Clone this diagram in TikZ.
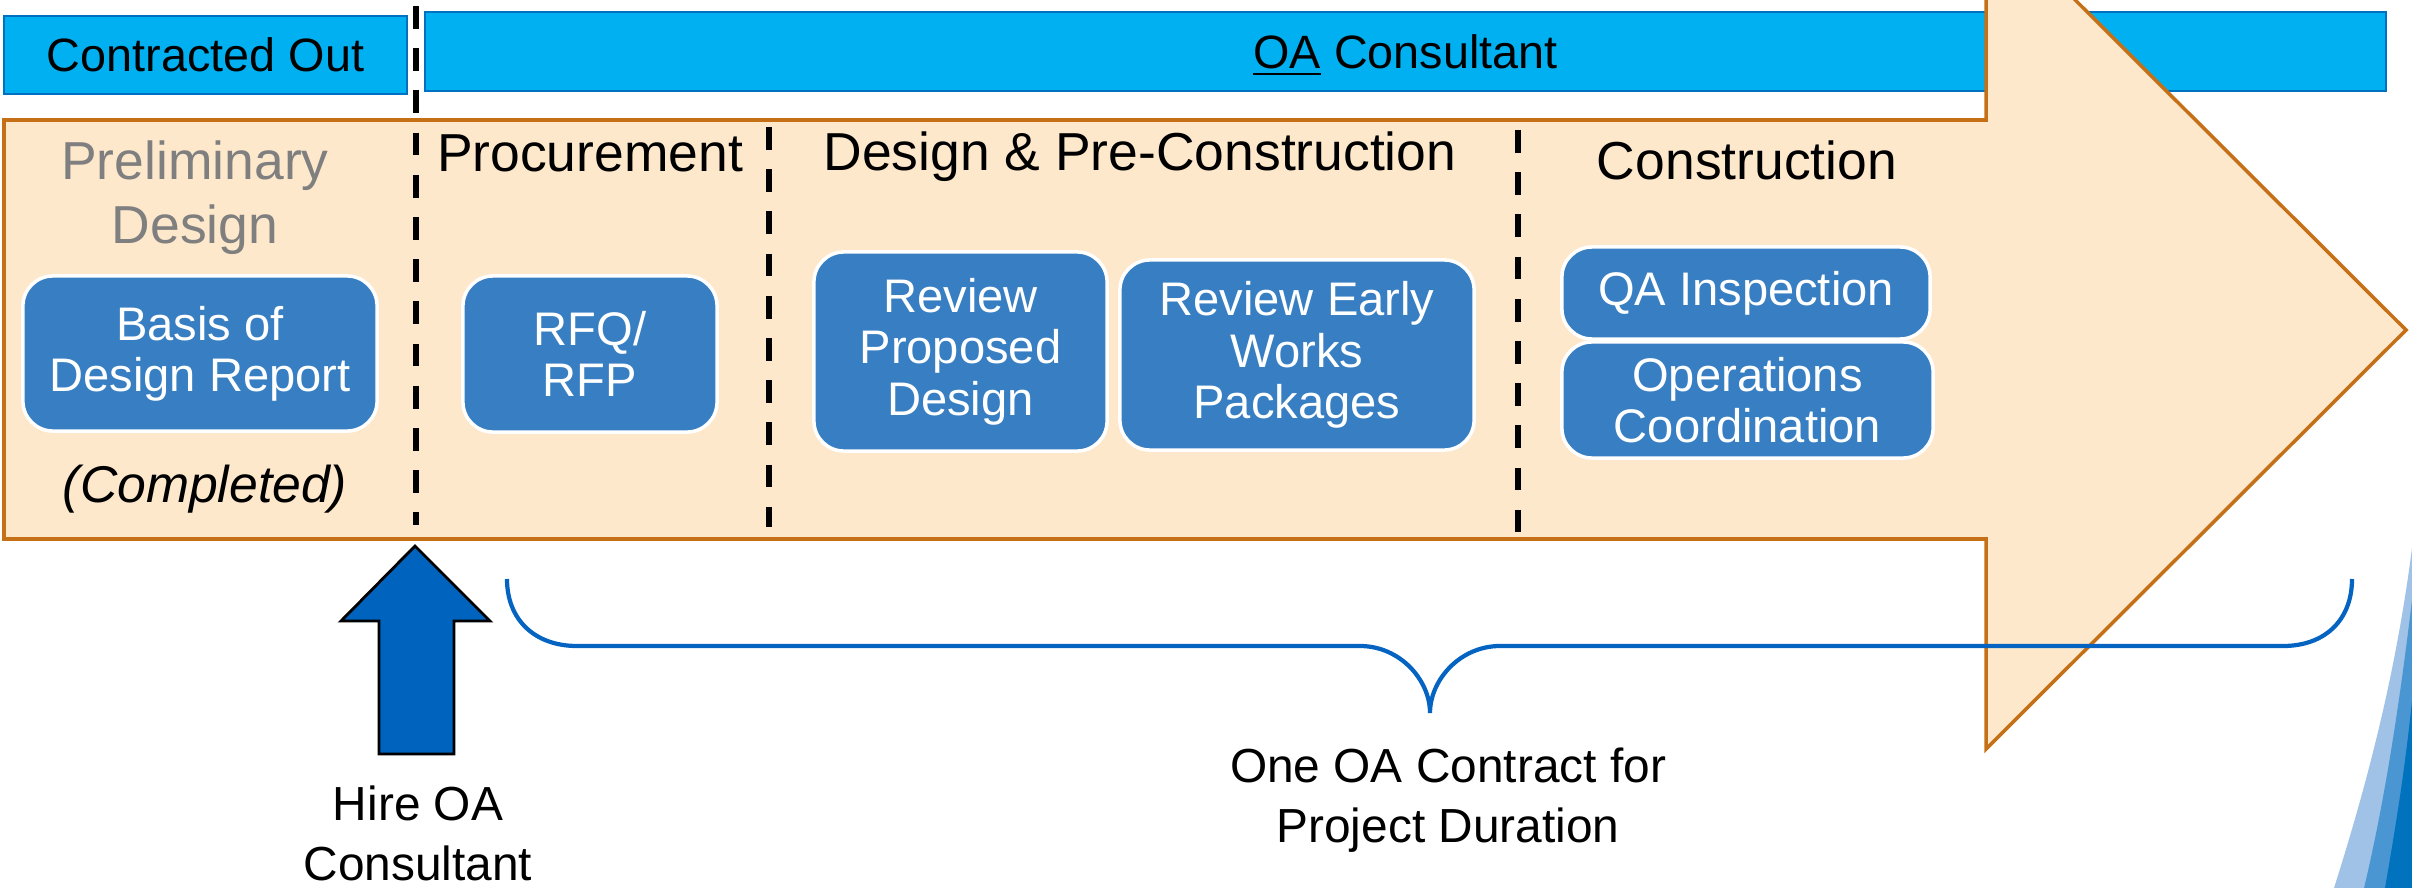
\documentclass[tikz,border=0pt]{standalone}
\usepackage{fontspec}
\setmainfont{Liberation Sans}
\usepackage{tikz}
\usetikzlibrary{calc,positioning}
\definecolor{mybarblue}{RGB}{0,176,240}
\definecolor{mybarline}{RGB}{0,112,192}
\definecolor{mypeach}{RGB}{253,232,204}
\definecolor{mypeachline}{RGB}{197,112,22}
\definecolor{myboxblue}{RGB}{55,126,194}
\definecolor{myhireblue}{RGB}{0,99,190}
\definecolor{mybrace}{RGB}{5,99,193}
\definecolor{mygray}{RGB}{127,127,127}
\definecolor{myswlight}{RGB}{160,194,230}
\definecolor{myswmid}{RGB}{74,150,210}
\definecolor{myswdark}{RGB}{0,114,190}

\begin{document}
\begin{tikzpicture}[
  x=0.01cm, y=-0.01cm,
  mybar/.style={
    draw=mybarline,
    fill=mybarblue,
    line width=0.6pt,
    inner sep=0pt,
    text depth=0pt,
    font=\fontsize{13.3}{16}\selectfont
    },
  mybox/.style={
    draw=white,
    fill=myboxblue,
    line width=1pt,
    rounded corners=0.3cm,
    text=white,
    align=center,
    inner sep=0pt,
    font=\fontsize{13.4}{14.6}\selectfont
    },
  myhead/.style={
    anchor=base,
    align=center,
    font=\fontsize{15.2}{18.2}\selectfont
    },
  mylabel/.style={
    anchor=base,
    align=center,
    font=\fontsize{13.6}{16.9}\selectfont
    },
  mysep/.style={
    line width=1.7pt,
    dash pattern=on 6.5pt off 5.5pt
    }
]
\useasboundingbox (0,0) rectangle (2412,888);
\clip (0,0) rectangle (2412,888);

% who does the work
\node[mybar, minimum width=4.03cm, minimum height=0.78cm]
  (cobar) at (205.5,55) {Contracted Out};
\node[mybar, minimum width=19.59cm, minimum height=0.79cm]
  (oabar) at (1405.5,51.5) {\underline{OA} Consultant};

% timeline arrow
\draw[draw=mypeachline, fill=mypeach, line width=1pt]
  (4,120) -- (1986,120) -- (1986,-89) -- (2406,330)
  -- (1986,749) -- (1986,539) -- (4,539) -- cycle;

\foreach \Xs/\Ya/\Yb in {416/6/525, 769/127/527, 1518/130/532}
  \draw[mysep] (\Xs,\Ya) -- (\Xs,\Yb);

% phases (multi-line nodes sit on their last baseline)
\node[myhead, text=mygray] (prelim) at (195,244) {Preliminary\\Design};
\node[myhead] (procure) at (590,172) {Procurement};
\node[myhead] (design) at (1140,171) {Design \& Pre-Construction};
\node[myhead] (constr) at (1747,180) {Construction};

% tasks
\node[mybox, minimum width=3.54cm, minimum height=1.55cm]
  (basis) at (200,353.5) {Basis of\\Design Report};
\node[mybox, minimum width=2.54cm, minimum height=1.56cm]
  (rfq) at (590,354) {RFQ/\\RFP};
\node[mybox, minimum width=2.93cm, minimum height=1.99cm]
  (revprop) at (960.5,351.5) {Review\\Proposed\\Design};
\node[mybox, minimum width=3.54cm, minimum height=1.90cm]
  (revearly) at (1297,355) {Review Early\\Works\\Packages};
\node[mybox, minimum width=3.68cm, minimum height=0.92cm]
  (qainsp) at (1746,293) {QA Inspection};
\node[mybox, minimum width=3.71cm, minimum height=1.16cm]
  (opscoord) at (1747.5,400) {Operations\\Coordination};

\node[myhead, font=\fontsize{14.7}{17}\selectfont\itshape]
  (completed) at (205,502) {(Completed)};

% hiring
\draw[fill=myhireblue, line width=0.8pt]
  (415,546) -- (490,621) -- (454,621) -- (454,754)
  -- (379,754) -- (379,621) -- (341,621) -- cycle;
\node[mylabel] (hire) at (418,880) {Hire OA\\Consultant};

% contract span
\draw[mybrace, line width=1.2pt]
  (507,579) .. controls (507,620) and (535,646) .. (577,646)
  -- (1360,646) .. controls (1400,646) and (1430,680) .. (1430,713)
  .. controls (1430,680) and (1460,646) .. (1500,646)
  -- (2283,646) .. controls (2325,646) and (2352,620) .. (2352,579);
\node[mylabel] (contract) at (1448,842) {One OA Contract for\\Project Duration};

% corner swoosh
\fill[myswlight] (2412,548) .. controls (2395,680) and (2365,790) .. (2334,888)
  -- (2412,888) -- cycle;
\fill[myswmid] (2412,600) .. controls (2400,700) and (2385,800) .. (2364,888)
  -- (2412,888) -- cycle;
\fill[myswdark] (2412,700) .. controls (2405,770) and (2395,830) .. (2385,888)
  -- (2412,888) -- cycle;

\end{tikzpicture}
\end{document}
